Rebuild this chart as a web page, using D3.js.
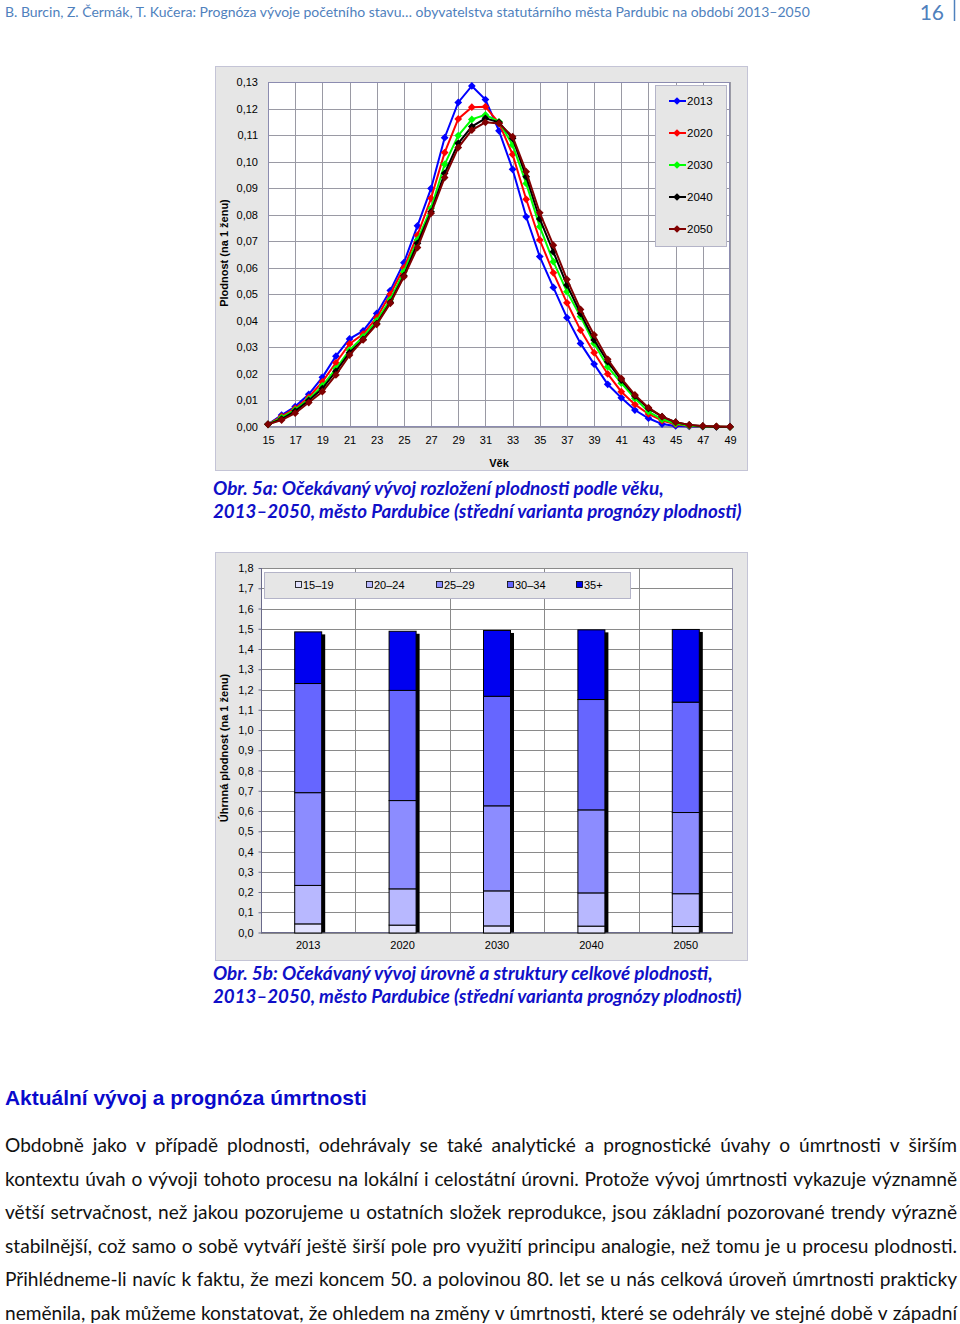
<!DOCTYPE html>
<html><head><meta charset="utf-8">
<script src="https://cdn.jsdelivr.net/npm/d3@7/dist/d3.min.js"></script>
<style>body{margin:0;background:#fff;} svg{display:block}</style>
</head><body>
<svg id="c" width="960" height="1324"></svg>
<script>
// ---------- DATA ----------
const ages = [15,16,17,18,19,20,21,22,23,24,25,26,27,28,29,30,31,32,33,34,35,36,37,38,39,40,41,42,43,44,45,46,47,48,49];
const fert2013 = [0.0010,0.0045,0.0077,0.0123,0.0187,0.0267,0.0332,0.0362,0.0428,0.0514,0.0619,
  0.0758,0.0899,0.1090,0.1223,0.1285,0.1234,0.1116,0.0971,0.0792,0.0642,
  0.0526,0.0412,0.0315,0.0237,0.0161,0.0110,0.0064,0.0033,0.0011,0.0004,
  0.0002,0.0001,0.0000,0.0000];
const fert2020 = [0.0010,0.0040,0.0070,0.0112,0.0170,0.0242,0.0313,0.0350,0.0412,0.0500,0.0600,
  0.0723,0.0862,0.1034,0.1161,0.1205,0.1207,0.1145,0.1027,0.0858,0.0705,
  0.0581,0.0468,0.0365,0.0280,0.0200,0.0133,0.0085,0.0049,0.0024,0.0010,
  0.0004,0.0002,0.0001,0.0000];
const fert2030 = [0.0010,0.0035,0.0065,0.0105,0.0155,0.0220,0.0290,0.0340,0.0400,0.0480,0.0585,
  0.0705,0.0824,0.0990,0.1098,0.1159,0.1176,0.1150,0.1063,0.0918,0.0755,
  0.0623,0.0510,0.0416,0.0315,0.0227,0.0165,0.0108,0.0058,0.0029,0.0013,
  0.0005,0.0002,0.0001,0.0000];
const fert2040 = [0.0010,0.0030,0.0060,0.0100,0.0145,0.0210,0.0280,0.0330,0.0390,0.0470,0.0570,
  0.0692,0.0811,0.0956,0.1069,0.1132,0.1163,0.1148,0.1088,0.0943,0.0784,
  0.0660,0.0535,0.0428,0.0328,0.0246,0.0177,0.0117,0.0070,0.0039,0.0018,
  0.0008,0.0003,0.0001,0.0001];
const fert2050 = [0.0010,0.0026,0.0052,0.0092,0.0133,0.0196,0.0271,0.0328,0.0387,0.0466,0.0566,
  0.0676,0.0805,0.0940,0.1053,0.1119,0.1148,0.1144,0.1094,0.0962,0.0807,
  0.0685,0.0556,0.0443,0.0347,0.0255,0.0183,0.0121,0.0073,0.0039,0.0018,
  0.0008,0.0004,0.0002,0.0001];
const seriesNames = ['2013','2020','2030','2040','2050'];
const seriesColors = ['#0000ff','#ff0000','#00ff00','#000000','#800000'];
const ageTicks = [15,17,19,21,23,25,27,29,31,33,35,37,39,41,43,45,47,49];
const yTicks1 = [0,0.01,0.02,0.03,0.04,0.05,0.06,0.07,0.08,0.09,0.10,0.11,0.12,0.13];

const years2 = ['2013','2020','2030','2040','2050'];
const groups2 = ['15–19','20–24','25–29','30–34','35+'];
const g15_19 = [0.045,0.039,0.035,0.034,0.032];
const g20_24 = [0.190,0.179,0.173,0.164,0.162];
const g25_29 = [0.458,0.436,0.420,0.410,0.401];
const g30_34 = [0.539,0.544,0.541,0.545,0.545];
const g35p   = [0.255,0.292,0.325,0.344,0.359];
const groupColors = ['#e2e2ff','#b8b8ff','#8c8cff','#6666ff','#0000f0'];
const yTicks2 = [0,0.1,0.2,0.3,0.4,0.5,0.6,0.7,0.8,0.9,1.0,1.1,1.2,1.3,1.4,1.5,1.6,1.7,1.8];

const headerText = 'B. Burcin, Z. Čermák, T. Kučera: Prognóza vývoje početního stavu… obyvatelstva statutárního města Pardubic na období 2013–2050';
const pageNo = '16';
const cap1 = ['Obr. 5a: Očekávaný vývoj rozložení plodnosti podle věku,','2013–2050, město Pardubice (střední varianta prognózy plodnosti)'];
const cap2 = ['Obr. 5b: Očekávaný vývoj úrovně a struktury celkové plodnosti,','2013–2050, město Pardubice (střední varianta prognózy plodnosti)'];
const heading = 'Aktuální vývoj a prognóza úmrtnosti';
const bodyLines = [
 'Obdobně jako v případě plodnosti, odehrávaly se také analytické a prognostické úvahy o úmrtnosti v širším',
 'kontextu úvah o vývoji tohoto procesu na lokální i celostátní úrovni. Protože vývoj úmrtnosti vykazuje významně',
 'větší setrvačnost, než jakou pozorujeme u ostatních složek reprodukce, jsou základní pozorované trendy výrazně',
 'stabilnější, což samo o sobě vytváří ještě širší pole pro využití principu analogie, než tomu je u procesu plodnosti.',
 'Přihlédneme-li navíc k faktu, že mezi koncem 50. a polovinou 80. let se u nás celková úroveň úmrtnosti prakticky',
 'neměnila, pak můžeme konstatovat, že ohledem na změny v úmrtnosti, které se odehrály ve stejné době v západní'
];

// ---------- HELPERS ----------
const svg = d3.select('#c');
const comma = d => d.replace('.', ',');
const fmt2 = v => comma(d3.format('.2f')(v));
const fmt1 = v => comma(d3.format('.1f')(v));
const ARIAL = '"Liberation Sans", Arial, sans-serif';
const CAL = 'Lato, "Open Sans", sans-serif';

function measure(text, font, size, weight, style) {
  const t = svg.append('text').attr('font-family', font).attr('font-size', size)
    .attr('font-weight', weight || 'normal').attr('font-style', style || 'normal').text(text);
  const w = t.node().getComputedTextLength(); t.remove(); return w;
}
function fitText(g, text, x, y, width, font, weight, style, color, baseSize) {
  const w = measure(text, font, baseSize, weight, style);
  const size = baseSize * width / w;
  g.append('text').attr('x', x).attr('y', y).attr('font-family', font).attr('font-size', size)
    .attr('font-weight', weight || 'normal').attr('font-style', style || 'normal').attr('fill', color).text(text);
  return size;
}

// ---------- HEADER ----------
fitText(svg, headerText, 5, 17, 805, CAL, 'normal', 'normal', '#4f81bd', 14);
svg.append('text').attr('x', 944).attr('y', 20).attr('text-anchor', 'end').attr('font-family', CAL)
  .attr('font-size', 21).attr('fill', '#4f81bd').text(pageNo);
svg.append('line').attr('x1', 954.5).attr('x2', 954.5).attr('y1', 0).attr('y2', 21).attr('stroke', '#4f81bd').attr('stroke-width', 1.5);

// ---------- CHART 1 ----------
const c1 = svg.append('g');
c1.append('rect').attr('x', 215.5).attr('y', 66.5).attr('width', 532).attr('height', 404)
  .attr('fill', '#e6e6e6').attr('stroke', '#c4c4d6');
const x1 = d3.scaleLinear().domain([15, 49]).range([268, 730]);
const y1 = d3.scaleLinear().domain([0, 0.13]).range([427, 82]);
c1.append('rect').attr('x', 268).attr('y', 82).attr('width', 462).attr('height', 345).attr('fill', '#fff');
// grid
c1.append('g').selectAll('line.h').data(yTicks1).join('line')
  .attr('x1', 268).attr('x2', 730).attr('y1', d => Math.round(y1(d)) + 0.5).attr('y2', d => Math.round(y1(d)) + 0.5)
  .attr('stroke', '#9a9aa4').attr('stroke-width', 1);
c1.append('g').selectAll('line.v').data(ageTicks).join('line')
  .attr('y1', 82).attr('y2', 427).attr('x1', d => Math.round(x1(d)) + 0.5).attr('x2', d => Math.round(x1(d)) + 0.5)
  .attr('stroke', '#9a9aa4').attr('stroke-width', 1);
c1.append('rect').attr('x', 268.5).attr('y', 82.5).attr('width', 461).attr('height', 344)
  .attr('fill', 'none').attr('stroke', '#8c8cb0');
// axes labels
const yAx1 = d3.axisLeft(y1).tickValues(yTicks1).tickFormat(fmt2).tickSize(0).tickPadding(10);
c1.append('g').attr('transform', 'translate(268,0)').call(yAx1)
  .call(g => g.select('.domain').remove())
  .selectAll('text').attr('font-family', ARIAL).attr('font-size', 11).attr('fill', '#000');
const xAx1 = d3.axisBottom(x1).tickValues(ageTicks).tickFormat(d3.format('d')).tickSize(0).tickPadding(9);
c1.append('g').attr('transform', 'translate(0,427)').call(xAx1)
  .call(g => g.select('.domain').remove())
  .selectAll('text').attr('font-family', ARIAL).attr('font-size', 11).attr('fill', '#000');
c1.append('text').attr('x', 499).attr('y', 467).attr('text-anchor', 'middle').attr('font-family', ARIAL)
  .attr('font-size', 11).attr('font-weight', 'bold').text('Věk');
c1.append('text').attr('transform', 'translate(228,253) rotate(-90)').attr('text-anchor', 'middle')
  .attr('font-family', ARIAL).attr('font-size', 11).attr('font-weight', 'bold').text('Plodnost (na 1 ženu)');
// series
const allSeries = [fert2013, fert2020, fert2030, fert2040, fert2050];
const lineGen = d3.line().x((d, i) => x1(ages[i])).y(d => y1(d));
const diamond = d3.symbol().type(d3.symbolSquare).size(30);
allSeries.forEach((s, k) => {
  c1.append('path').attr('d', lineGen(s)).attr('fill', 'none').attr('stroke', seriesColors[k]).attr('stroke-width', 2);
  c1.append('g').selectAll('path').data(s).join('path')
    .attr('d', diamond).attr('transform', (d, i) => `translate(${x1(ages[i])},${y1(d)}) rotate(45)`)
    .attr('fill', seriesColors[k]);
});
// legend
const lg1 = c1.append('g');
lg1.append('rect').attr('x', 655.5).attr('y', 85.5).attr('width', 71).attr('height', 161)
  .attr('fill', '#e6e6e6').attr('stroke', '#b4b4c8');
seriesNames.forEach((n, k) => {
  const yy = 101 + k * 32;
  lg1.append('line').attr('x1', 669).attr('x2', 686).attr('y1', yy).attr('y2', yy).attr('stroke', seriesColors[k]).attr('stroke-width', 2);
  lg1.append('path').attr('d', diamond).attr('transform', `translate(677,${yy}) rotate(45)`).attr('fill', seriesColors[k]);
  lg1.append('text').attr('x', 687).attr('y', yy + 4).attr('font-family', ARIAL).attr('font-size', 11.5).text(n);
});
// caption
fitText(svg, cap1[0], 213, 495, 451, CAL, 'bold', 'italic', '#1010c8', 18);
fitText(svg, cap1[1], 213, 518, 529, CAL, 'bold', 'italic', '#1010c8', 18);

// ---------- CHART 2 ----------
const c2 = svg.append('g');
c2.append('rect').attr('x', 215.5).attr('y', 552.5).attr('width', 532).attr('height', 408)
  .attr('fill', '#e6e6e6').attr('stroke', '#c4c4d6');
const x2 = d3.scaleBand().domain(years2).range([261, 733]).padding(0);
const y2 = d3.scaleLinear().domain([0, 1.8]).range([932.5, 568]);
c2.append('rect').attr('x', 261).attr('y', 568).attr('width', 472).attr('height', 364.5).attr('fill', '#fff');
c2.append('g').selectAll('line').data(yTicks2).join('line')
  .attr('x1', 261).attr('x2', 733).attr('y1', d => Math.round(y2(d)) + 0.5).attr('y2', d => Math.round(y2(d)) + 0.5)
  .attr('stroke', '#8a8a8a');
c2.append('g').selectAll('line').data(years2.slice(1)).join('line')
  .attr('x1', d => Math.round(x2(d)) + 0.5).attr('x2', d => Math.round(x2(d)) + 0.5).attr('y1', 568).attr('y2', 932)
  .attr('stroke', '#8a8a8a');
c2.append('line').attr('x1', 732.5).attr('x2', 732.5).attr('y1', 568).attr('y2', 932).attr('stroke', '#8a8aa8');
c2.append('line').attr('x1', 261.5).attr('x2', 261.5).attr('y1', 568).attr('y2', 933).attr('stroke', '#6a6a8a');
c2.append('line').attr('x1', 261).attr('x2', 733).attr('y1', 932.5).attr('y2', 932.5).attr('stroke', '#6a6a8a');
const yAx2 = d3.axisLeft(y2).tickValues(yTicks2).tickFormat(fmt1).tickSize(3).tickPadding(5);
c2.append('g').attr('transform', 'translate(261.5,0)').call(yAx2)
  .call(g => g.select('.domain').remove())
  .call(g => g.selectAll('line').attr('stroke', '#6a6a8a'))
  .selectAll('text').attr('font-family', ARIAL).attr('font-size', 11).attr('fill', '#000');
const xAx2 = d3.axisBottom(x2).tickSize(0).tickPadding(9);
c2.append('g').attr('transform', 'translate(0,932.5)').call(xAx2)
  .call(g => g.select('.domain').remove())
  .selectAll('text').attr('font-family', ARIAL).attr('font-size', 11).attr('fill', '#000');
c2.append('text').attr('transform', 'translate(228,748) rotate(-90)').attr('text-anchor', 'middle')
  .attr('font-family', ARIAL).attr('font-size', 11).attr('font-weight', 'bold').text('Úhrnná plodnost (na 1 ženu)');
// stacks
const table = years2.map((y, i) => ({year: y, '15–19': g15_19[i], '20–24': g20_24[i], '25–29': g25_29[i], '30–34': g30_34[i], '35+': g35p[i]}));
const stacked = d3.stack().keys(groups2)(table);
const bw = 28;
// shadow
const tot = stacked[stacked.length - 1];
c2.append('g').selectAll('rect').data(tot).join('rect')
  .attr('x', d => x2(d.data.year) + x2.bandwidth() / 2 - bw / 2 + 3).attr('y', d => y2(d[1]) + 3)
  .attr('width', bw).attr('height', d => y2(0) - y2(d[1]) - 3).attr('fill', '#000');
stacked.forEach((layer, k) => {
  c2.append('g').selectAll('rect').data(layer).join('rect')
    .attr('x', d => x2(d.data.year) + x2.bandwidth() / 2 - bw / 2 + 0.5).attr('y', d => y2(d[1]) + 0.5)
    .attr('width', bw - 1).attr('height', d => y2(d[0]) - y2(d[1]))
    .attr('fill', groupColors[k]).attr('stroke', '#000').attr('stroke-width', 1);
});
// legend
const lg2 = c2.append('g');
lg2.append('rect').attr('x', 264.5).attr('y', 572.5).attr('width', 366).attr('height', 26)
  .attr('fill', '#e6e6e6').attr('stroke', '#b4b4c8');
const legX = [295, 366, 436, 507, 576];
groups2.forEach((g, k) => {
  lg2.append('rect').attr('x', legX[k] + 0.5).attr('y', 581.5).attr('width', 6).attr('height', 6)
    .attr('fill', groupColors[k]).attr('stroke', '#000').attr('stroke-width', 0.8);
  lg2.append('text').attr('x', legX[k] + 8).attr('y', 589).attr('font-family', ARIAL).attr('font-size', 11).text(g);
});
fitText(svg, cap2[0], 213, 980, 500, CAL, 'bold', 'italic', '#1010c8', 18);
fitText(svg, cap2[1], 213, 1003, 529, CAL, 'bold', 'italic', '#1010c8', 18);

// ---------- TEXT ----------
fitText(svg, heading, 5, 1105, 362, ARIAL, 'bold', 'normal', '#0a0acc', 20);
(function () {
  const x0 = 5, x1r = 957, W = x1r - x0;
  let maxW = 0;
  bodyLines.forEach(l => { maxW = Math.max(maxW, measure(l, CAL, 19, 'normal')); });
  const size = Math.min(19.5, 19 * (W - 4) / maxW);
  bodyLines.forEach((l, i) => {
    const words = l.split(' ');
    const ws = words.map(w => measure(w, CAL, size, 'normal'));
    const gap = (W - d3.sum(ws)) / (words.length - 1);
    let x = x0;
    const y = 1152 + i * 33.5;
    const g = svg.append('g');
    words.forEach((w, j) => {
      g.append('text').attr('x', x).attr('y', y).attr('font-family', CAL).attr('font-size', size).attr('fill', '#111').text(w);
      x += ws[j] + gap;
    });
  });
})();
</script>
</body></html>
